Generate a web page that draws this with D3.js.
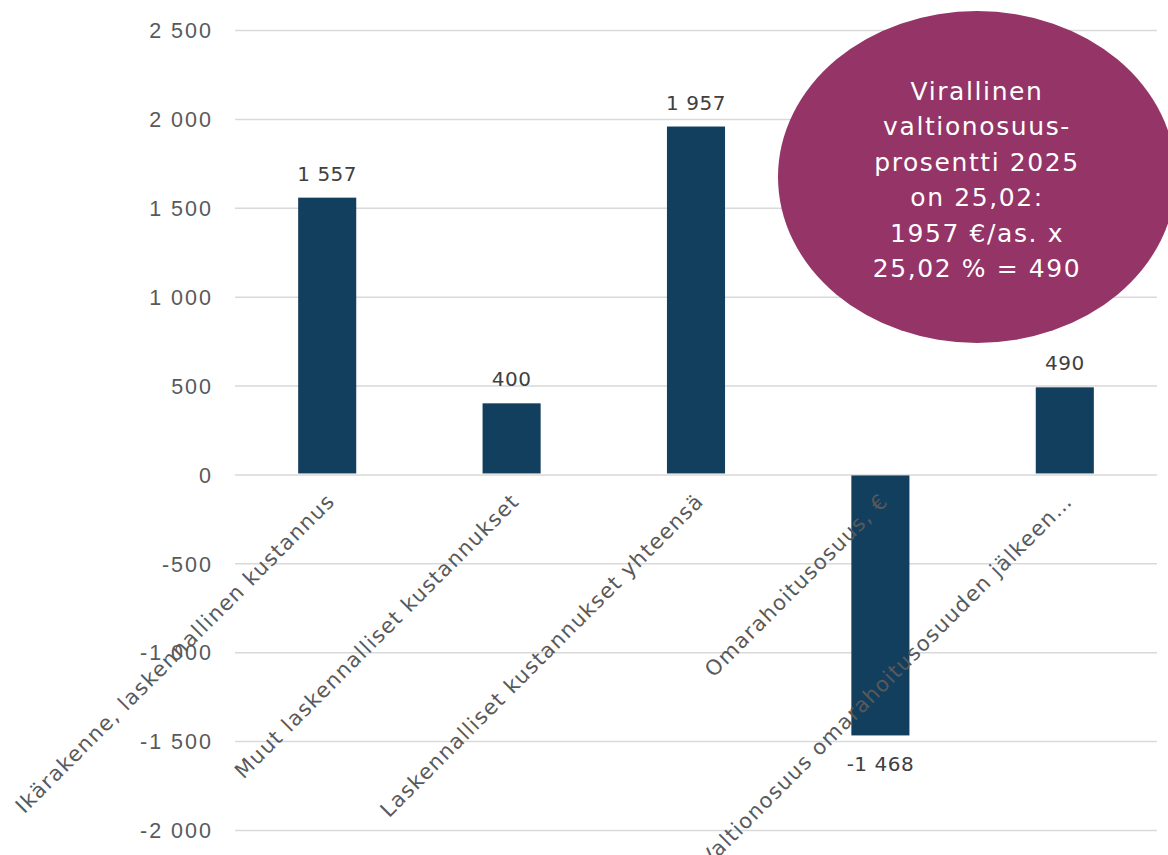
<!DOCTYPE html>
<html>
<head>
<meta charset="utf-8">
<script src="https://cdn.jsdelivr.net/npm/d3@7"></script>
<style>
  body { margin: 0; background: #fff; }
  svg { font-family: "DejaVu Sans", "Noto Sans", sans-serif; }
</style>
</head>
<body>
<div id="chart"></div>
<script>
// Data
const categories = [
  "Ikärakenne, laskennallinen kustannus",
  "Muut laskennalliset kustannukset",
  "Laskennalliset kustannukset yhteensä",
  "Omarahoitusosuus, €",
  "Valtionosuus omarahoitusosuuden jälkeen…"
];
const values = [1557, 400, 1957, -1468, 490];
const yTicks = [-2000, -1500, -1000, -500, 0, 500, 1000, 1500, 2000, 2500];
const noteLines = [
  "Virallinen",
  "valtionosuus-",
  "prosentti 2025",
  "on 25,02:",
  "1957 €/as. x",
  "25,02 % = 490"
];

const width = 1168;
const height = 855;
const margin = { left: 235, right: 11, top: 30, bottom: 25 };

const fiLocale = d3.formatLocale({ decimal: ",", thousands: " ", grouping: [3], currency: ["", " €"], minus: "-" });
const fmt = fiLocale.format(",d");

const svg = d3.select("#chart")
  .append("svg")
  .attr("width", width)
  .attr("height", height);

const x = d3.scaleBand()
  .domain(categories)
  .range([margin.left, width - margin.right])
  .paddingInner(0.685)
  .paddingOuter(0.3425);

const y = d3.scaleLinear()
  .domain([-2000, 2500])
  .range([height - margin.bottom, margin.top]);

// Gridlines + tick labels
const yAxis = svg.append("g")
  .attr("transform", `translate(${margin.left},0)`)
  .call(d3.axisLeft(y).tickValues(yTicks).tickFormat(fmt)
    .tickSize(-(width - margin.right - margin.left)).tickPadding(22));
yAxis.select(".domain").remove();
yAxis.selectAll(".tick line").attr("stroke", "#d9d9d9").attr("stroke-width", 1.5);
yAxis.selectAll(".tick text")
  .attr("fill", "#595959")
  .style("font-size", "21.5px")
  .style("letter-spacing", "2px")
  .attr("dy", "0.36em");

// Bars
svg.append("g")
  .selectAll("rect")
  .data(values)
  .join("rect")
  .attr("x", (d, i) => x(categories[i]))
  .attr("width", x.bandwidth())
  .attr("y", d => d >= 0 ? y(d) : y(0) + 1)
  .attr("height", d => Math.abs(y(d) - y(0)) - 1)
  .attr("fill", "#133f5f");

// Value labels
svg.append("g")
  .selectAll("text")
  .data(values)
  .join("text")
  .attr("x", (d, i) => x(categories[i]) + x.bandwidth() / 2)
  .attr("y", d => d >= 0 ? y(d) - 17 : y(d) + 36)
  .attr("text-anchor", "middle")
  .attr("fill", "#404040")
  .style("font-size", "20px")
  .style("letter-spacing", "0.5px")
  .text(d => fmt(d));

// Category labels (rotated)
svg.append("g")
  .selectAll("text")
  .data(categories)
  .join("text")
  .attr("transform", d => `translate(${x(d) + x.bandwidth() / 2 + 9},${y(0) + 28}) rotate(-45)`)
  .attr("text-anchor", "end")
  .attr("fill", "#595959")
  .style("font-size", "21px")
  .style("letter-spacing", "1.3px")
  .text(d => d);

// Annotation ellipse
const note = svg.append("g").attr("transform", "translate(977,177)");
note.append("ellipse")
  .attr("rx", 199)
  .attr("ry", 166)
  .attr("fill", "#943467");
note.append("text")
  .attr("text-anchor", "middle")
  .attr("fill", "#fff")
  .style("font-size", "25px")
  .style("letter-spacing", "1.6px")
  .selectAll("tspan")
  .data(noteLines)
  .join("tspan")
  .attr("x", 0)
  .attr("y", (d, i) => -77 + i * 35.4)
  .text(d => d);
</script>
</body>
</html>
